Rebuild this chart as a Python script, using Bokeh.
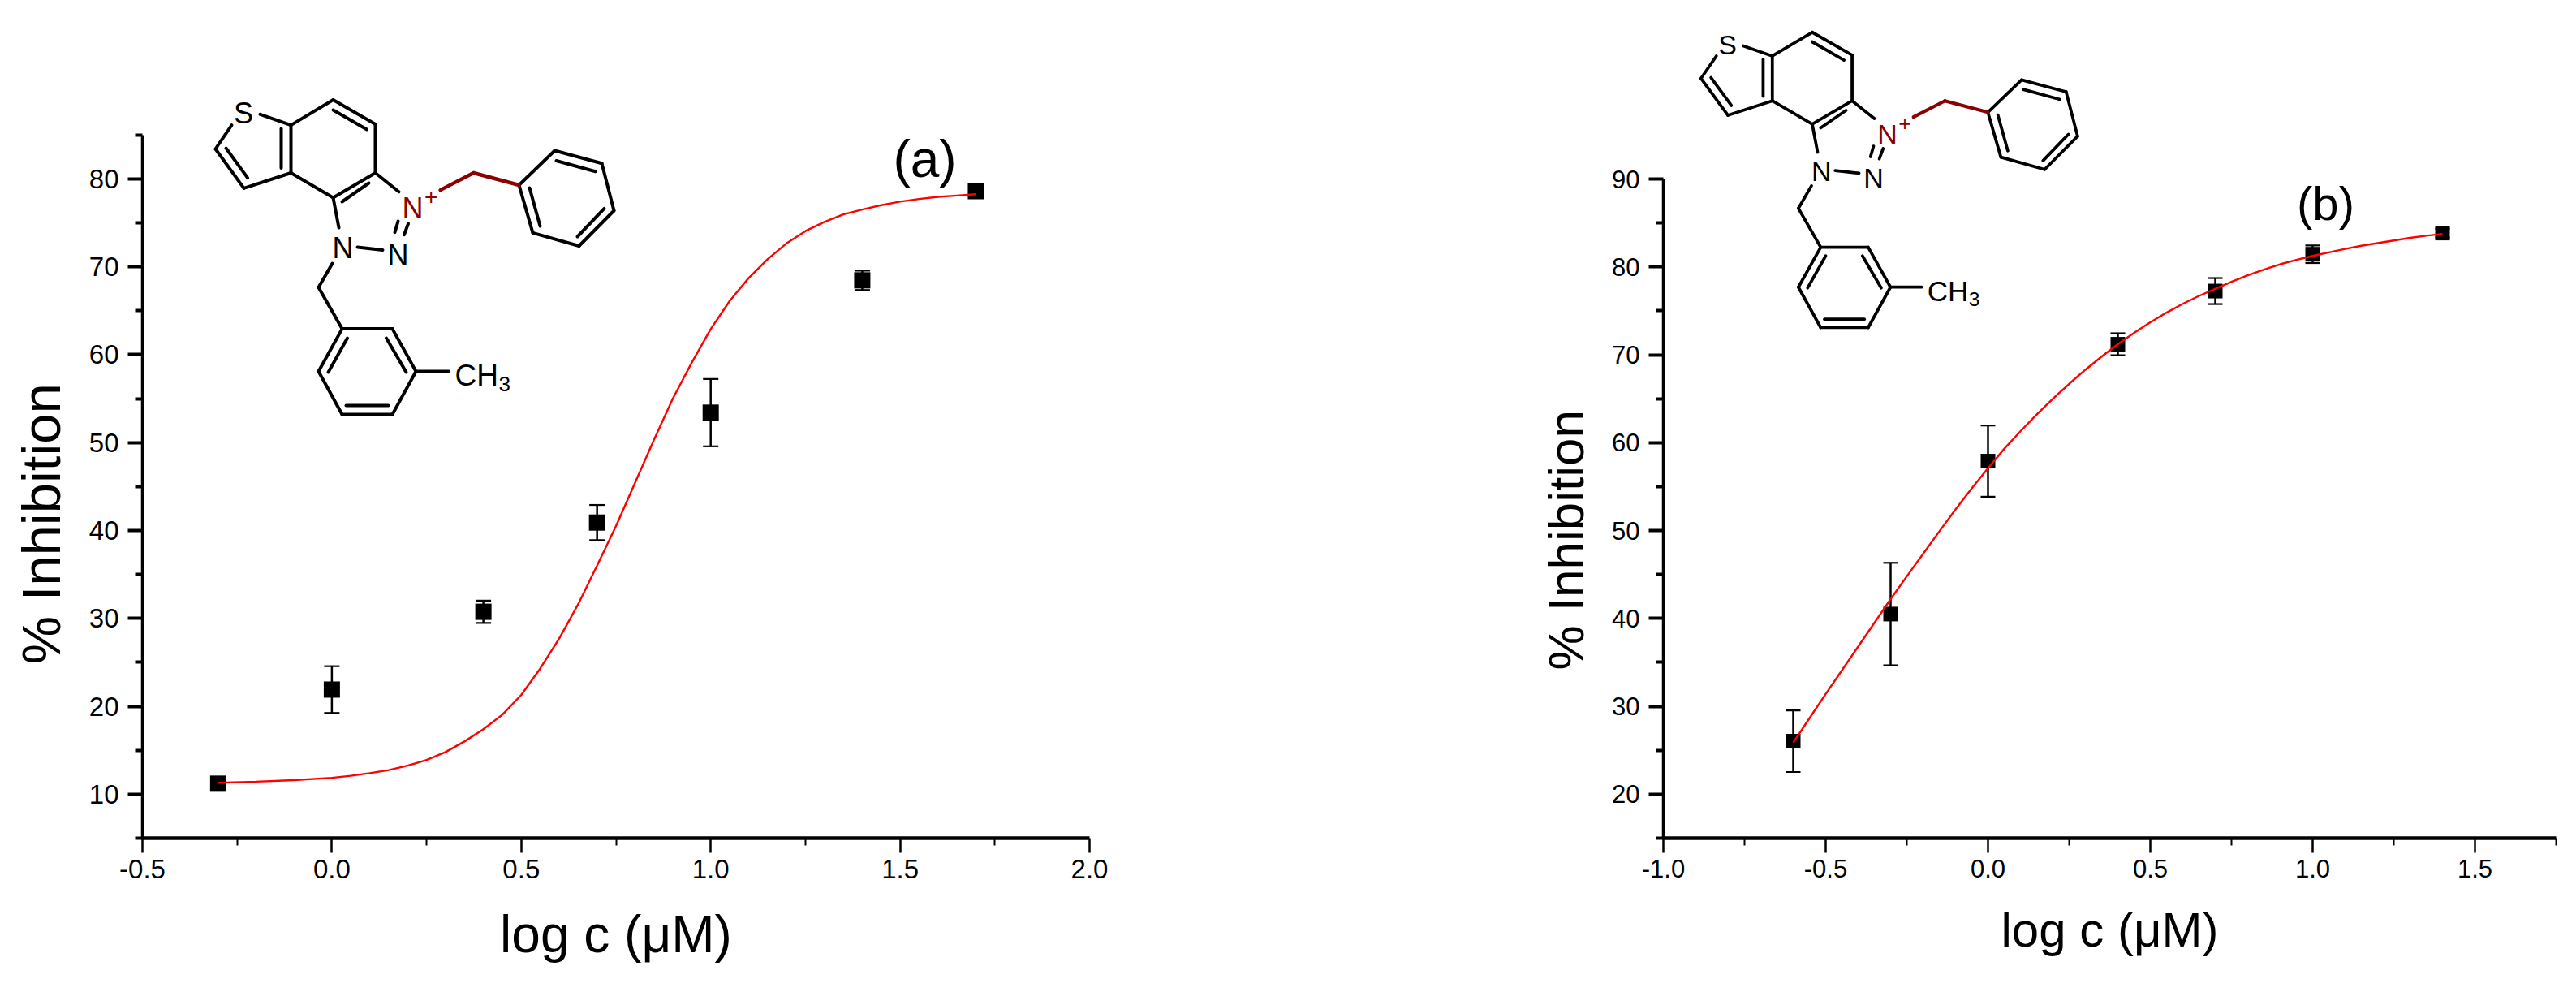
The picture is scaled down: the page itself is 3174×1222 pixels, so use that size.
from bokeh.embed import file_html
from bokeh.resources import INLINE
from bokeh.layouts import row
from bokeh.models import (ColumnDataSource, FixedTicker, NumeralTickFormatter,
                          Range1d, TeeHead, Title, Whisker)
from bokeh.plotting import figure
from bokeh.core.properties import value

FONT = "Liberation Sans"

# ---- data panel (a)
a_x = [-0.3, 0.0, 0.4, 0.7, 1.0, 1.4, 1.7]
a_y = [11.2, 21.9, 30.75, 40.9, 53.4, 68.45, 78.6]
a_err = [0.4, 2.66, 1.27, 2.0, 3.83, 1.1, 0.4]
a_fit_x = [-0.3, -0.2, -0.1, 0.0, 0.05, 0.1, 0.15, 0.2, 0.25, 0.3, 0.35, 0.4, 0.45, 0.5, 0.55, 0.6, 0.65,
           0.7, 0.75, 0.8, 0.85, 0.9, 0.95, 1.0, 1.05, 1.1, 1.15, 1.2, 1.25, 1.3, 1.35, 1.4, 1.45, 1.5,
           1.55, 1.6, 1.65, 1.7]
a_fit_y = [11.3, 11.43, 11.6, 11.87, 12.1, 12.4, 12.75, 13.25, 13.9, 14.8, 16.0, 17.4, 19.05, 21.3, 24.3,
           27.7, 31.6, 36.0, 40.5, 45.4, 50.3, 55.0, 59.1, 62.9, 66.1, 68.7, 70.85, 72.65, 74.05, 75.1,
           75.95, 76.5, 77.0, 77.4, 77.7, 77.95, 78.1, 78.25]
a_xticks = [-0.5, 0.0, 0.5, 1.0, 1.5, 2.0]
a_xminor = [-0.25, 0.25, 0.75, 1.25, 1.75]
a_yticks = [10, 20, 30, 40, 50, 60, 70, 80]
a_yminor = [5, 15, 25, 35, 45, 55, 65, 75, 85]

# ---- data panel (b)
b_x = [-0.6, -0.3, 0.0, 0.4, 0.7, 1.0, 1.4]
b_y = [26.03, 40.5, 57.9, 71.2, 77.25, 81.44, 83.85]
b_err = [3.5, 5.83, 4.05, 1.25, 1.48, 1.0, 0.5]
b_fit_x = [-0.6, -0.55, -0.5, -0.45, -0.4, -0.35, -0.3, -0.25, -0.2, -0.15, -0.1, -0.05, 0.0, 0.05, 0.1,
           0.15, 0.2, 0.25, 0.3, 0.35, 0.4, 0.45, 0.5, 0.55, 0.6, 0.65, 0.7, 0.75, 0.8, 0.85, 0.9, 0.95,
           1.0, 1.05, 1.1, 1.15, 1.2, 1.25, 1.3, 1.35, 1.4]
b_fit_y = [25.87, 28.65, 31.4, 34.1, 36.8, 39.5, 42.2, 44.8, 47.35, 49.9, 52.4, 54.8, 57.1, 59.3, 61.3,
           63.2, 65.0, 66.7, 68.3, 69.8, 71.2, 72.5, 73.7, 74.8, 75.8, 76.7, 77.5, 78.3, 79.05, 79.7,
           80.3, 80.8, 81.25, 81.65, 82.05, 82.4, 82.7, 83.0, 83.3, 83.55, 83.75]
b_xticks = [-1.0, -0.5, 0.0, 0.5, 1.0, 1.5]
b_xminor = [-0.75, -0.25, 0.25, 0.75, 1.25, 1.75]
b_yticks = [20, 30, 40, 50, 60, 70, 80, 90]
b_yminor = [15, 25, 35, 45, 55, 65, 75, 85]

# ---- structure drawing (bond ends in the drawing's own pixel frame)
MOL_BLACK = [
    (320, 140.4, 358, 153.6), (285, 153.6, 265, 183), (265, 183, 300, 231.4), (278, 182, 304.6, 218.6),
    (300, 231.4, 358, 212.5), (358, 153.6, 358, 212.5), (346, 158, 346, 206.4), (358, 153.6, 410, 122.5),
    (410, 122.5, 462, 152.5), (410, 135, 451.5, 159), (462, 152.5, 462, 212.5), (462, 212.5, 410, 243),
    (454, 225, 421, 248), (410, 243, 358, 212.5), (462, 212.5, 491, 235.7), (410, 243, 417, 280),
    (490, 272, 486, 285.7), (502.5, 275, 497.5, 288.6), (440, 304, 471, 307.5), (409, 324, 392, 353.6),
    (392, 353.6, 421, 404.6), (421, 404.6, 483, 404.6), (483, 404.6, 512, 457), (512, 457, 483, 510),
    (483, 510, 421, 510), (421, 510, 392, 457), (392, 457, 421, 404.6), (427.5, 416, 404, 458),
    (475.5, 416, 500, 458), (426, 499, 478, 499), (512, 457, 552.5, 457),
    (639, 227.5, 683, 185), (683, 185, 741, 200.7), (741, 200.7, 756, 259), (756, 259, 713, 302.5),
    (713, 302.5, 656, 286.4), (656, 286.4, 639, 227.5), (685, 197.5, 733, 210.7), (652, 231, 665, 278),
    (744, 256.4, 711, 291),
]
MOL_RED = [(542, 233.6, 583, 212.5), (583, 212.5, 639, 227.5)]
MOL_TEXT = [
    ("S", 299.5, 149, 36, "center", "black"), ("N", 422, 315.4, 36, "center", "black"),
    ("N", 490, 324, 36, "center", "black"), ("N", 508, 266, 36, "center", "#8b0000"),
    ("+", 530.6, 250, 28, "center", "#8b0000"), ("CH", 560, 472.5, 37, "left", "black"),
    ("3", 614, 480, 26, "left", "black"),
]


def panel(width, height, origin_x, frame_left, frame_right, frame_bottom, xlim, ylo, yppu, ylim_top,
          xt, xm, yt, ym, tick_font, title_font, title_standoff, tick_standoff):
    """One graph whose frame reaches the top of the page so the drawing is not cut."""
    frame_top = 0
    xppu = (frame_right - frame_left) / (xlim[1] - xlim[0])
    ytop = ylo + (frame_bottom - frame_top) / yppu
    p = figure(width=width, height=height, output_backend="svg", toolbar_location=None,
               x_range=Range1d(xlim[0], xlim[1]), y_range=Range1d(ylo, ytop),
               min_border_left=frame_left - origin_x, min_border_right=origin_x + width - frame_right,
               min_border_top=0, min_border_bottom=height - frame_bottom,
               background_fill_color="white", border_fill_color="white", outline_line_color=None)
    p.grid.visible = False
    xa, ya = p.xaxis[0], p.yaxis[0]
    xa.ticker = FixedTicker(ticks=xt, minor_ticks=xm)
    ya.ticker = FixedTicker(ticks=yt, minor_ticks=ym)
    xa.formatter = NumeralTickFormatter(format="0.0")
    ya.bounds = (ylo, ylim_top)
    for ax in (xa, ya):
        ax.axis_line_color = "black"
        ax.major_tick_line_color = "black"
        ax.minor_tick_line_color = "black"
        ax.major_tick_in = 0
        ax.minor_tick_in = 0
        ax.major_tick_out = 18
        ax.minor_tick_out = 9
        ax.major_label_text_font = FONT
        ax.major_label_text_font_size = f"{tick_font}px"
        ax.major_label_text_color = "black"
        ax.major_label_standoff = tick_standoff
    ya.major_label_standoff = tick_standoff + 3
    xa.axis_line_width = 4.5
    xa.major_tick_line_width = 2.5
    xa.minor_tick_line_width = 2
    ya.axis_line_width = 3.5
    ya.major_tick_line_width = 4
    ya.minor_tick_line_width = 4
    xa.axis_label = "log c (\u03bcM)"
    xa.axis_label_text_font = FONT
    xa.axis_label_text_font_style = "normal"
    xa.axis_label_text_font_size = f"{title_font}px"
    xa.axis_label_text_color = "black"
    xa.axis_label_standoff = title_standoff
    to_x = lambda px: xlim[0] + (px - frame_left) / xppu
    to_y = lambda py: ylo + (frame_bottom - py) / yppu
    return p, to_x, to_y


def marks(p, xs, ys, errs, fx, fy, msize, cap):
    src = ColumnDataSource(dict(x=xs, up=[a + b for a, b in zip(ys, errs)], lo=[a - b for a, b in zip(ys, errs)]))
    p.add_layout(Whisker(base="x", upper="up", lower="lo", source=src, dimension="height", line_color="black",
                         line_width=2.5, level="underlay",
                         upper_head=TeeHead(size=cap, line_color="black", line_width=2.2),
                         lower_head=TeeHead(size=cap, line_color="black", line_width=2.2)))
    p.scatter(xs, ys, marker="square", size=msize, fill_color="black", line_color=None)
    p.line(fx, fy, line_color="#ff0000", line_width=2.4)


def note(p, x, y, text, size, align="center", color="black"):
    p.text([x], [y], text=[text], text_font=value(FONT), text_font_size=value(f"{size:.1f}px"),
           text_align=align, text_baseline="alphabetic", text_color=color, y_offset=-0.28 * size)


def molecule(p, to_x, to_y, ox, oy, s):
    tx = lambda v: to_x(ox + s * (v - 299.5))
    ty = lambda v: to_y(oy + s * (v - 135.7))
    for bonds, col, w in ((MOL_BLACK, "black", 4.0), (MOL_RED, "#8b0000", 4.4)):
        p.segment([tx(b[0]) for b in bonds], [ty(b[1]) for b in bonds],
                  [tx(b[2]) for b in bonds], [ty(b[3]) for b in bonds],
                  line_color=col, line_width=w * s, line_cap="round")
    for txt, x, y, size, align, col in MOL_TEXT:
        note(p, tx(x), ty(y), txt, size * s, align, col)


SPLIT = 1500
HEIGHT = 1214
PULL = 12  # the first canvas starts this far left of the page edge to hold the rotated title

pa, ax, ay = panel(SPLIT + PULL, HEIGHT, -PULL, 175, 1342, 1032, (-0.5, 2.0), 5, 10.83, 85,
                   a_xticks, a_xminor, a_yticks, a_yminor, 33, 64, 30, 8)
pa.margin = (0, 0, 0, -PULL)
marks(pa, a_x, a_y, a_err, a_fit_x, a_fit_y, 20, 19)
molecule(pa, ax, ay, 299.5, 135.7, 1.0)
note(pa, ax(1139), ay(213), "(a)", 64)
pa.add_layout(Title(text="% Inhibition", align="left", offset=214, standoff=38, text_font=FONT,
                    text_font_size="67px", text_font_style="normal", text_color="black"), "left")

pb, bx, by = panel(3166 - SPLIT, HEIGHT, SPLIT, 2049, 3149, 1039, (-1.0, 1.75), 15, 10.9, 90,
                   b_xticks, b_xminor, b_yticks, b_yminor, 31, 60, 28, 8)
marks(pb, b_x, b_y, b_err, b_fit_x, b_fit_y, 18, 18)
molecule(pb, bx, by, 2128, 52, 0.945)
note(pb, bx(2865), by(268), "(b)", 58)
pb.add_layout(Title(text="% Inhibition", align="left", offset=207, standoff=40, text_font=FONT,
                    text_font_size="62px", text_font_style="normal", text_color="black"), "left")

layout = row(pa, pb, spacing=0)
open("out.html", "w").write(file_html(layout, INLINE))
